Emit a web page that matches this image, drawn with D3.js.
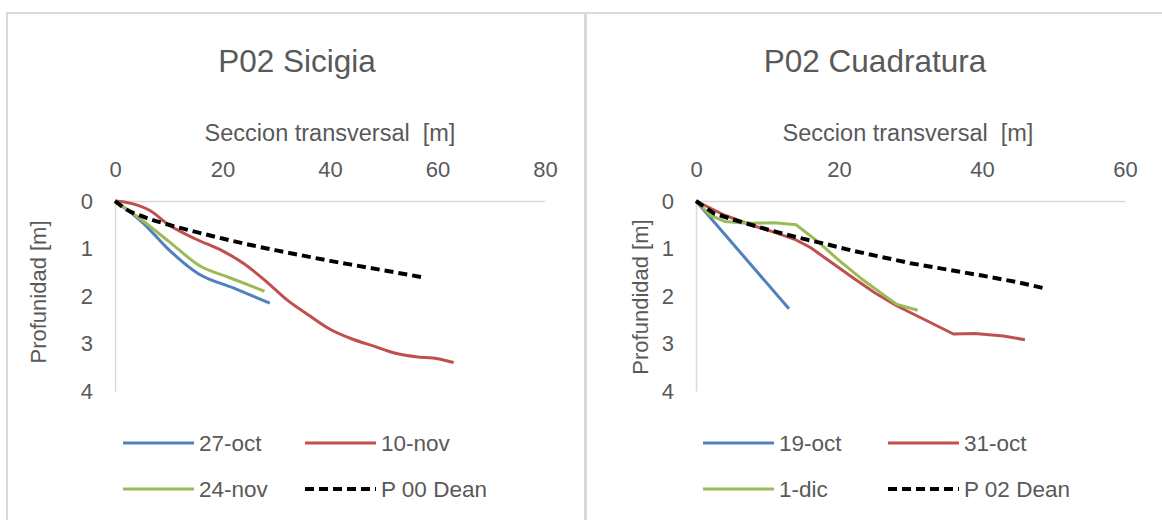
<!DOCTYPE html>
<html>
<head>
<meta charset="utf-8">
<script src="https://cdn.jsdelivr.net/npm/d3@7"></script>
<style>
  body { margin: 0; background: #fff; }
  svg { display: block; font-family: 'Liberation Sans', Arial, sans-serif; }
</style>
</head>
<body>
<svg id="chart" width="1162" height="520"></svg>
<script>
// --- data: [seccion (m), profundidad (m)] ---
const sicigia27oct = [[0, 0], [5.3, 0.47], [9.6, 0.98], [15.5, 1.53], [22, 1.83], [28.8, 2.15]];
const sicigia10nov = [[0, 0], [3, 0.05], [6.5, 0.2], [10, 0.5], [15, 0.8], [20, 1.05],
  [24, 1.32], [28, 1.68], [32, 2.08], [36, 2.4], [40, 2.7], [44, 2.9], [48, 3.05],
  [52, 3.2], [56, 3.28], [60, 3.32], [63, 3.4]];
const sicigia24nov = [[0, 0], [5, 0.4], [10, 0.85], [16, 1.38], [21, 1.6], [27.8, 1.9]];
const sicigiaDean = [[0, 0], [2, 0.17], [5, 0.32], [10, 0.5], [15, 0.65], [20, 0.79],
  [25, 0.92], [30, 1.04], [35, 1.15], [40, 1.26], [45, 1.36], [50, 1.46], [57, 1.6]];

const cuadratura19oct = [[0, 0], [13, 2.27]];
const cuadratura31oct = [[0, 0], [4, 0.3], [8, 0.52], [11, 0.66], [14, 0.82], [16, 0.98],
  [19, 1.3], [22, 1.62], [25, 1.93], [28, 2.2], [32, 2.5], [36, 2.8], [39, 2.79],
  [43, 2.84], [46, 2.92]];
const cuadratura1dic = [[0, 0], [2, 0.3], [4, 0.43], [7, 0.47], [11, 0.46], [14, 0.5],
  [17, 0.85], [20, 1.25], [23, 1.62], [26, 1.95], [28, 2.17], [31, 2.3]];
const cuadraturaDean = [[0, 0], [2.5, 0.26], [5, 0.38], [7, 0.47], [10, 0.6], [14, 0.76],
  [18, 0.9], [22, 1.05], [26, 1.18], [30, 1.31], [35, 1.44], [40, 1.57], [45, 1.71], [49.1, 1.85]];

const sicigiaNames = ['27-oct', '10-nov', '24-nov', 'P 00 Dean'];
const cuadraturaNames = ['19-oct', '31-oct', '1-dic', 'P 02 Dean'];
const sicigiaXTicks = [0, 20, 40, 60, 80];
const cuadraturaXTicks = [0, 20, 40, 60];
const yTicks = [0, 1, 2, 3, 4];

(() => {
  const svg = d3.select('#chart');
  const textColor = '#595959';
  const gridColor = '#d9d9d9';
  const colors = ['#4f81bd', '#c0504d', '#9bbb59', '#000'];

  function drawChart(opt) {
    const g = svg.append('g');

    g.append('rect')
        .attr('x', opt.left)
        .attr('y', 13)
        .attr('width', opt.width)
        .attr('height', 540)
        .attr('fill', '#fff')
        .attr('stroke', gridColor)
        .attr('stroke-width', 2);

    const x = d3.scaleLinear()
        .domain([0, opt.xMax])
        .range([opt.x0, opt.x1]);
    const y = d3.scaleLinear()
        .domain([0, 4])
        .range([201, 391]);

    const xAxis = g.append('g')
        .attr('transform', `translate(0,${y(0)})`)
        .call(d3.axisTop(x).tickValues(opt.xTicks).tickSize(0).tickPadding(24)
            .tickFormat(d3.format('d')));
    const yAxis = g.append('g')
        .attr('transform', `translate(${x(0)},0)`)
        .call(d3.axisLeft(y).tickValues(yTicks).tickSize(0).tickPadding(22)
            .tickFormat(d3.format('d')));

    [xAxis, yAxis].forEach(a => {
      a.select('.domain').attr('stroke', gridColor).attr('stroke-width', 1.5);
      a.selectAll('text')
          .attr('fill', textColor)
          .style('font-size', '22px');
    });

    g.append('text')
        .attr('x', opt.titleX)
        .attr('y', 72)
        .attr('text-anchor', 'middle')
        .attr('fill', textColor)
        .style('font-size', '31.5px')
        .text(opt.title);

    g.append('text')
        .attr('x', opt.xTitleX)
        .attr('y', 141)
        .attr('text-anchor', 'middle')
        .attr('fill', textColor)
        .style('font-size', '23.5px')
        .style('white-space', 'pre')
        .text('Seccion transversal  [m]');

    g.append('text')
        .attr('transform', `translate(${opt.yTitleX},${opt.yTitleY})rotate(-90)`)
        .attr('dy', '0.35em')
        .attr('text-anchor', 'middle')
        .attr('fill', textColor)
        .style('font-size', '22px')
        .text(opt.yTitle);

    const line = d3.line()
        .x(d => x(d[0]))
        .y(d => y(d[1]))
        .curve(opt.curve);

    opt.series.forEach((s, i) => {
      g.append('path')
          .datum(s)
          .attr('d', line)
          .attr('fill', 'none')
          .attr('stroke', colors[i])
          .attr('stroke-width', i === 3 ? 4 : 3)
          .attr('stroke-dasharray', i === 3 ? '9,5' : null)
          .attr('stroke-linejoin', 'round');
    });

    const legend = g.append('g')
        .selectAll('g')
        .data(opt.names)
        .enter().append('g')
        .attr('transform', (d, i) =>
            `translate(${opt.legendX[i % 2]},${i < 2 ? 443 : 489})`);

    legend.append('line')
        .attr('x1', 0)
        .attr('x2', 71)
        .attr('stroke', (d, i) => colors[i])
        .attr('stroke-width', (d, i) => i === 3 ? 4 : 3)
        .attr('stroke-dasharray', (d, i) => i === 3 ? '9,5' : null);

    legend.append('text')
        .attr('x', 76)
        .attr('dy', '0.35em')
        .attr('fill', textColor)
        .style('font-size', '22.5px')
        .text(d => d);
  }

  drawChart({
    left: 7, width: 578, x0: 115, x1: 545, xMax: 80, xTicks: sicigiaXTicks,
    title: 'P02 Sicigia', titleX: 297, xTitleX: 330,
    yTitle: 'Profunidad [m]', yTitleX: 38, yTitleY: 292,
    series: [sicigia27oct, sicigia10nov, sicigia24nov, sicigiaDean],
    names: sicigiaNames, legendX: [123, 305], curve: d3.curveMonotoneX
  });

  drawChart({
    left: 586, width: 600, x0: 696, x1: 1125, xMax: 60, xTicks: cuadraturaXTicks,
    title: 'P02 Cuadratura', titleX: 875, xTitleX: 908,
    yTitle: 'Profundidad [m]', yTitleX: 640, yTitleY: 297,
    series: [cuadratura19oct, cuadratura31oct, cuadratura1dic, cuadraturaDean],
    names: cuadraturaNames, legendX: [703, 888], curve: d3.curveLinear
  });
})();
</script>
</body>
</html>
